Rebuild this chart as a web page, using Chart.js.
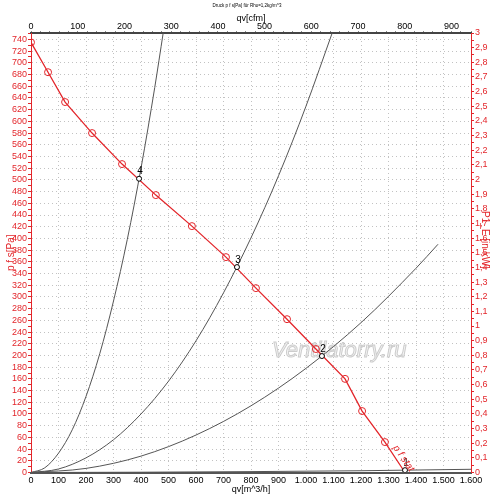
<!DOCTYPE html>
<html>
<head>
<meta charset="utf-8">
<script src="https://cdn.jsdelivr.net/npm/chart.js@4.4.1/dist/chart.umd.min.js"></script>
<style>
  html, body { margin: 0; padding: 0; background: #fff; }
  #wrap { width: 500px; height: 499px; position: relative; }
</style>
</head>
<body>
<div id="wrap"><canvas id="fanChart"></canvas></div>
<script>
// fan curve p f stat, qv [m^3/h] -> p [Pa]
const fanFlow  = [0, 62, 124, 222, 331, 454, 585, 709, 818, 931, 1036, 1142, 1204, 1287, 1360];
const fanPress = [735, 684, 633, 580, 527, 474, 421, 368, 315, 262, 211, 160, 105, 52, 0];

// system curves 1..4
const sys1Flow  = [0, 400, 800, 1200, 1360, 1600];
const sys1Press = [0, 0.5, 1.5, 3, 4, 5.5];
const sys2Flow  = [0, 200, 400, 600, 800, 1000, 1200, 1400, 1480];
const sys2Press = [0, 7, 28, 64, 114, 178, 256, 349, 390];
const sys3Flow  = [0, 100, 200, 300, 400, 500, 600, 700, 800, 900, 1000, 1096];
const sys3Press = [0, 6, 25, 56, 100, 156, 225, 307, 401, 507, 626, 752];
const sys4Flow  = [0, 50, 100, 150, 200, 250, 300, 350, 400, 450, 481];
const sys4Press = [0, 8, 33, 73, 130, 203, 293, 398, 520, 658, 752];

// operating points
const opFlow   = [1360, 1058, 749, 393];
const opPress  = [4, 199, 351, 502];
const opLabels = ['1', '2', '3', '4'];

const flowMax  = 1600;
const pressMax = 751;
const powerMax = 3;
const m3hPerCfm = 1.69901;

const chartTitle = 'Druck p f s[Pa] für Rho=1,2kg/m^3';
const powerTitle = 'P1_E [in kW]';
const RED = '#e3262b';
const GRID = '#c2c2c2';

Chart.defaults.font.family = '"Liberation Sans", Arial, sans-serif';
Chart.defaults.font.size = 9;

const toXY = (xs, ys) => xs.map((x, i) => ({ x: x, y: ys[i] }));

// 1.000 style thousands
function fmtFlow(v) {
  if (v < 1000) return String(v);
  return Math.floor(v / 1000) + '.' + String(v % 1000).padStart(3, '0');
}

const overlay = {
  id: 'overlay',
  beforeDatasetsDraw(chart) {
    const ctx = chart.ctx;
    ctx.save();
    ctx.font = 'italic 22px "Liberation Sans", Arial, sans-serif';
    ctx.textBaseline = 'alphabetic';
    ctx.lineWidth = 1;
    ctx.strokeStyle = '#cdcdcd';
    ctx.fillStyle = '#f4f4f4';
    ctx.fillText('Ventilatorry.ru', 272, 357);
    ctx.strokeText('Ventilatorry.ru', 272, 357);
    ctx.restore();
  },
  afterDraw(chart) {
    const { ctx, scales } = chart;
    ctx.save();
    ctx.fillStyle = '#000';
    ctx.textAlign = 'center';
    ctx.textBaseline = 'middle';
    ctx.font = '4.5px "Liberation Sans", Arial, sans-serif';
    ctx.fillText(chartTitle, 247, 6);

    ctx.font = '10px "Liberation Sans", Arial, sans-serif';
    opLabels.forEach((t, i) => {
      ctx.fillText(t, scales.x.getPixelForValue(opFlow[i]) + 1, scales.y.getPixelForValue(opPress[i]) - 7);
    });

    // right axis title
    ctx.save();
    ctx.translate(485, 240);
    ctx.rotate(Math.PI / 2);
    ctx.fillStyle = RED;
    ctx.fillText(powerTitle, 0, 0);
    ctx.restore();

    // curve name along the red line
    const n = fanFlow.length - 2;
    const px = scales.x.getPixelForValue(fanFlow[n]) + 10;
    const py = scales.y.getPixelForValue(fanPress[n]) + 4;
    ctx.translate(px, py);
    ctx.rotate(0.96);
    ctx.textAlign = 'left';
    ctx.fillStyle = RED;
    ctx.font = 'italic 10px "Liberation Sans", Arial, sans-serif';
    ctx.fillText('p f stat', 0, 0);
    ctx.restore();
  }
};

const sysStyle = {
  borderColor: '#555',
  borderWidth: 1,
  pointRadius: 0,
  cubicInterpolationMode: 'monotone',
  fill: false
};

new Chart(document.getElementById('fanChart'), {
  type: 'line',
  data: {
    datasets: [
      {
        label: 'Betriebspunkte',
        data: toXY(opFlow, opPress),
        showLine: false,
        pointRadius: 2.5,
        pointBackgroundColor: '#fff',
        pointBorderColor: '#000',
        pointBorderWidth: 1
      },
      {
        label: 'p f stat',
        data: toXY(fanFlow, fanPress),
        borderColor: RED,
        borderWidth: 1.3,
        tension: 0,
        pointRadius: ctx => ctx.dataIndex === fanFlow.length - 1 ? 0 : 3.5,
        pointBorderColor: RED,
        pointBackgroundColor: 'rgba(0,0,0,0)',
        pointBorderWidth: 1
      },
      Object.assign({ label: 'Anlage 1', data: toXY(sys1Flow, sys1Press) }, sysStyle),
      Object.assign({ label: 'Anlage 2', data: toXY(sys2Flow, sys2Press) }, sysStyle),
      Object.assign({ label: 'Anlage 3', data: toXY(sys3Flow, sys3Press) }, sysStyle),
      Object.assign({ label: 'Anlage 4', data: toXY(sys4Flow, sys4Press) }, sysStyle)
    ]
  },
  options: {
    responsive: true,
    maintainAspectRatio: false,
    animation: false,
    layout: { padding: 0 },
    plugins: {
      legend: { display: false },
      title: { display: false },
      tooltip: { enabled: false }
    },
    scales: {
      x: {
        type: 'linear',
        position: 'bottom',
        min: 0,
        max: flowMax,
        afterFit: s => { s.height = 26.5; },
        ticks: {
          stepSize: 100,
          autoSkip: false,
          maxRotation: 0,
          padding: 3,
          color: '#000',
          callback: v => fmtFlow(v)
        },
        grid: { color: GRID, drawTicks: false },
        border: { color: '#555', width: 2, dash: [1, 3] },
        title: { display: true, text: 'qv[m^3/h]', color: '#000', padding: { top: 0, bottom: 4 } }
      },
      x2: {
        type: 'linear',
        axis: 'x',
        position: 'top',
        min: 0,
        max: flowMax / m3hPerCfm,
        afterFit: s => { s.height = 33; },
        ticks: {
          stepSize: 20,
          autoSkip: false,
          maxRotation: 0,
          padding: -1,
          color: '#000',
          callback: v => v % 100 === 0 ? String(v) : ''
        },
        grid: { drawOnChartArea: false, tickLength: 2, color: '#888' },
        border: { color: '#444', width: 2 },
        title: { display: true, text: 'qv[cfm]', color: '#000', padding: { top: 13, bottom: 0 } }
      },
      y: {
        type: 'linear',
        position: 'left',
        min: 0,
        max: pressMax,
        afterFit: s => { s.width = 31; },
        ticks: {
          stepSize: 10,
          autoSkip: false,
          padding: 1,
          color: RED,
          callback: v => v % 20 === 0 ? String(v) : ''
        },
        grid: {
          color: ctx => (ctx.tick && ctx.tick.value % 20 === 0) ? GRID : 'rgba(0,0,0,0)',
          tickColor: RED,
          tickLength: 3
        },
        border: { color: RED, width: 1, dash: [1, 3] },
        title: { display: true, text: 'p f s[Pa]', color: RED, font: { size: 10 }, padding: { top: 5 } }
      },
      y2: {
        type: 'linear',
        axis: 'y',
        position: 'right',
        min: 0,
        max: powerMax,
        afterFit: s => { s.width = 29; },
        ticks: {
          stepSize: 0.05,
          autoSkip: false,
          padding: 1,
          color: RED,
          callback: v => {
            const t = Math.round(v * 100);
            return t % 10 === 0 ? String(t / 100).replace('.', ',') : '';
          }
        },
        grid: { drawOnChartArea: false, tickColor: RED, tickLength: 3 },
        border: { color: RED, width: 1 }
      }
    }
  },
  plugins: [overlay]
});
</script>
</body>
</html>
